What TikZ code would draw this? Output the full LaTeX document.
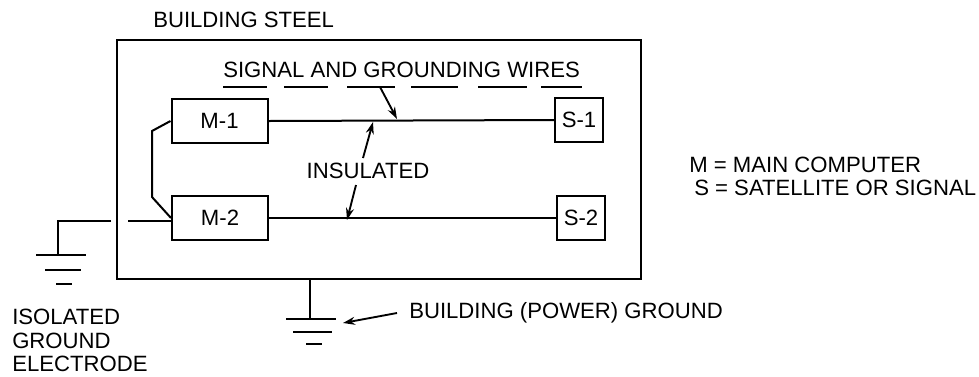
\documentclass[tikz,border=0pt]{standalone}
\usepackage{fontspec}
\setmainfont{Liberation Sans}
\usetikzlibrary{arrows.meta}
\tikzset{
  x=0.75pt,y=-0.75pt,
  wire/.style={line width=1.5pt,line join=miter},
  unit/.style={draw,line width=1.5pt,minimum width=72pt,minimum height=33pt,inner sep=0pt,font=\fontsize{16.6}{18}\selectfont},
  sat/.style={unit,minimum width=36pt},
  lab/.style={inner sep=0pt,font=\fontsize{16.6}{17.6}\selectfont,align=left},
  pointer/.style={line width=1.4pt,-{Stealth[length=9pt,width=6pt]}},
}
\begin{document}
\begin{tikzpicture}
\useasboundingbox (0,0) rectangle (979,376);
\node[draw,line width=1.5pt,minimum width=393pt,minimum height=179.25pt,inner sep=0pt] (steel) at (379,159.5) {};
\node[unit] (m1) at (219.5,121) {M-1};
\node[unit] (m2) at (220,218) {M-2};
\node[sat] (s1) at (579,120) {S-1};
\node[sat] (s2) at (581,218) {S-2};
\draw[wire] (m1.east) -- (s1.west);
\draw[wire] (m2.east) -- (s2.west);
\coordinate (j1) at (152,131);
\coordinate (j2) at (152,197);
\draw[wire] (m1.west) -- (j1) -- (j2) -- (m2.west);
\coordinate (gl) at (58,220.5);
\coordinate (gl2) at (111,220.5);
\coordinate (gl3) at (128,220.5);
\draw[wire] (gl3) -- (m2.west |- gl3);
\draw[wire] (gl2) -- (gl) -- (58,255) coordinate (g1);
\draw[wire] (36,255) -- (86,255);
\draw[wire] (45,270) -- (81,270);
\draw[wire] (56,284) -- (72,284);
\coordinate (g2) at (310,319);
\draw[wire] (310,279) -- (g2);
\draw[wire] (286,319) -- (336,319);
\draw[wire] (293,332) -- (332,332);
\draw[wire] (306,344) -- (322,344);
\node[lab,anchor=west] (bs) at (153,20) {BUILDING STEEL};
\node[lab,anchor=west] (sg) at (223,70) {SIGNAL AND GROUNDING WIRES};
\foreach \a/\b in {223/267,284/328,347/395,411/458,478/527,541/582}
  \draw[line width=1.3pt] (\a,87) -- (\b,87);
\node[lab,anchor=center] (ins) at (368,171) {INSULATED};
\coordinate (a1) at (380,87);
\coordinate (a2) at (397,119);
\draw[pointer] (a1) -- (a2);
\coordinate (a3) at (363,158);
\coordinate (a4) at (373,122);
\draw[pointer] (a3) -- (a4);
\coordinate (a5) at (356,185);
\coordinate (a6) at (347,220);
\draw[pointer] (a5) -- (a6);
\node[lab,anchor=west] (leg1) at (689,165) {M = MAIN COMPUTER};
\node[lab,anchor=west] (leg2) at (694,188) {S = SATELLITE OR SIGNAL};
\node[lab,anchor=north west] (ige) at (12,309) {ISOLATED\\GROUND\\ELECTRODE};
\node[lab,anchor=west] (bpg) at (409,313) {BUILDING (POWER) GROUND};
\coordinate (a7) at (397,313);
\coordinate (a8) at (343,323);
\draw[pointer] (a7) -- (a8);
\end{tikzpicture}
\end{document}
